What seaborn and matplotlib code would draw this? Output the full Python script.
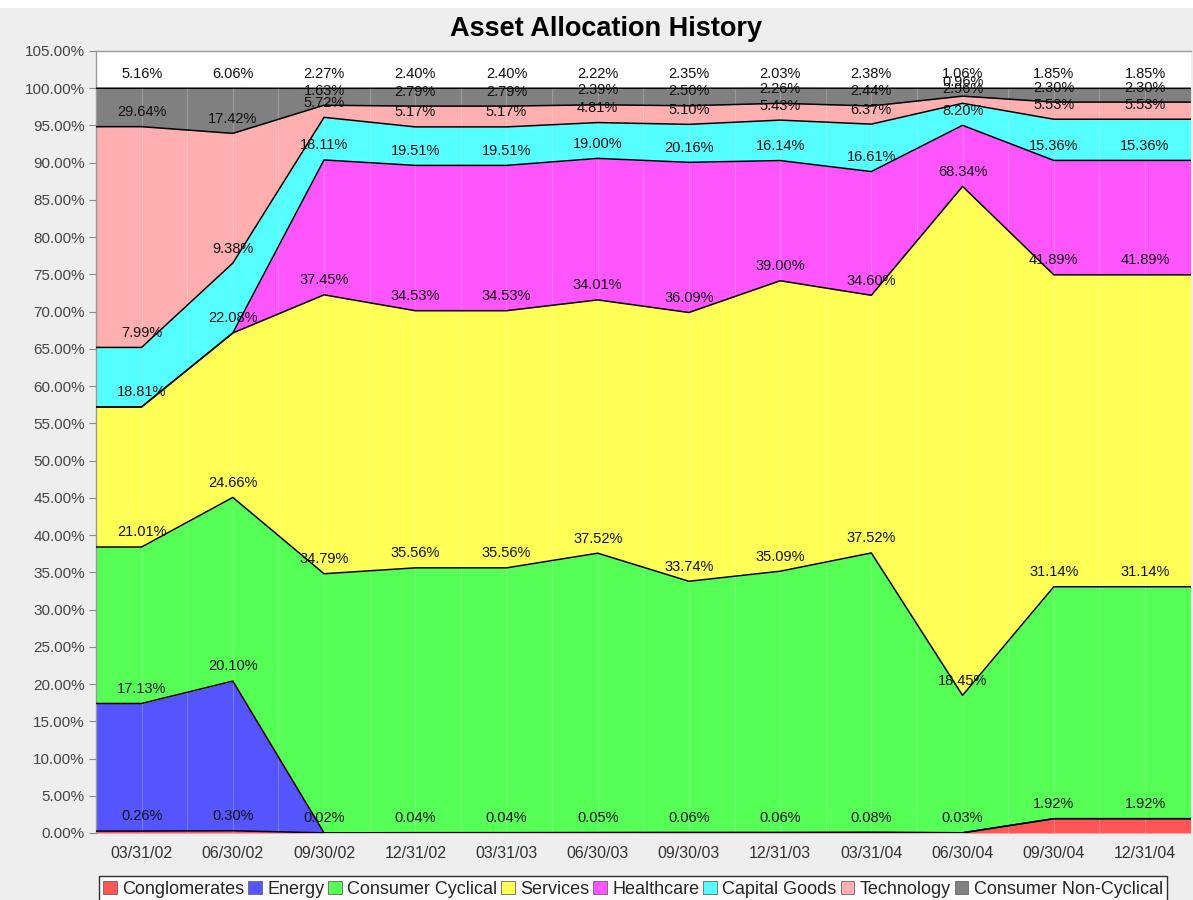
import numpy as np
import pandas as pd
import matplotlib
matplotlib.use("Agg")
import matplotlib.pyplot as plt
from matplotlib.patches import Patch, Rectangle
import seaborn as sns

# ---------------- data ----------------
dates = ["03/31/02", "06/30/02", "09/30/02", "12/31/02", "03/31/03", "06/30/03",
         "09/30/03", "12/31/03", "03/31/04", "06/30/04", "09/30/04", "12/31/04"]
series_names = ["Conglomerates", "Energy", "Consumer Cyclical", "Services",
                "Healthcare", "Capital Goods", "Technology", "Consumer Non-Cyclical"]
conglomerates = [0.26, 0.30, 0.02, 0.04, 0.04, 0.05, 0.06, 0.06, 0.08, 0.03, 1.92, 1.92]
energy = [17.13, 20.10, 0, 0, 0, 0, 0, 0, 0, 0, 0, 0]
consumer_cyclical = [21.01, 24.66, 34.79, 35.56, 35.56, 37.52, 33.74, 35.09, 37.52, 18.45, 31.14, 31.14]
services = [18.81, 22.08, 37.45, 34.53, 34.53, 34.01, 36.09, 39.00, 34.60, 68.34, 41.89, 41.89]
healthcare = [0, 0, 18.11, 19.51, 19.51, 19.00, 20.16, 16.14, 16.61, 8.20, 15.36, 15.36]
capital_goods = [7.99, 9.38, 5.72, 5.17, 5.17, 4.81, 5.10, 5.43, 6.37, 2.96, 5.53, 5.53]
technology = [29.64, 17.42, 1.63, 2.79, 2.79, 2.39, 2.50, 2.26, 2.44, 0.96, 2.30, 2.30]
non_cyclical = [5.16, 6.06, 2.27, 2.40, 2.40, 2.22, 2.35, 2.03, 2.38, 1.06, 1.85, 1.85]
colors = ["#FF5555", "#5555FF", "#55FF55", "#FFFF55", "#FF55FF", "#55FFFF", "#FFAFAF", "#808080"]
y_ticks = [0, 5, 10, 15, 20, 25, 30, 35, 40, 45, 50, 55, 60, 65, 70, 75, 80, 85, 90, 95, 100, 105]

values = [conglomerates, energy, consumer_cyclical, services, healthcare,
          capital_goods, technology, non_cyclical]
df = pd.DataFrame(dict(zip(series_names, values)), index=dates)

# ---------------- style ----------------
sns.set_style("white")
plt.rcParams["font.family"] = ["Liberation Sans", "DejaVu Sans"]

fig = plt.figure(figsize=(11.93, 9.0), dpi=100, facecolor="#EEEEEE")
fig.patches.append(Rectangle((0, 1 - 8 / 900), 1, 8 / 900, transform=fig.transFigure,
                             facecolor="white", edgecolor="none", zorder=0))
ax = fig.add_axes([96 / 1193, 1 - 833 / 900, 1 - 96 / 1193 - 0.002, (833 - 51) / 900])
ax.set_facecolor("white")

n = len(dates)
idx = np.arange(n)
xs = np.r_[-0.5, idx, n - 0.5]

cum = df.cumsum(axis=1)
prev = np.zeros(n)
for name, col in zip(series_names, colors):
    top = cum[name].to_numpy()
    lo = np.r_[prev[0], prev, prev[-1]]
    hi = np.r_[top[0], top, top[-1]]
    ax.fill_between(xs, lo, hi, color=col, linewidth=0, zorder=1)
    prev = top

# faint rendering seams
for s in np.arange(-0.5, n, 0.5)[1:]:
    ax.axvline(s, color="white", alpha=0.22, lw=0.8, zorder=2)

# outlines
for name in series_names:
    top = cum[name].to_numpy()
    sns.lineplot(x=xs, y=np.r_[top[0], top, top[-1]], color="black", linewidth=1.1,
                 ax=ax, zorder=3, legend=False)

# item labels
for name in series_names:
    top = cum[name].to_numpy()
    for i in range(n):
        v = df[name].iloc[i]
        if v > 0:
            ax.annotate(f"{v:.2f}%", (i, top[i]), xytext=(0, 10.5), textcoords="offset points",
                        ha="center", va="center", fontsize=10.5, color="#111111", zorder=4)

ax.set_xlim(-0.5, n - 0.5)
ax.set_ylim(0, 105)
ax.set_yticks(y_ticks)
ax.set_yticklabels([f"{t:.2f}%" for t in y_ticks])
ax.set_xticks(idx)
ax.set_xticklabels(dates)
ax.tick_params(axis="y", which="both", left=True, length=5, width=0.8, color="#888888",
               labelsize=11, labelcolor="#444444", pad=3)
ax.tick_params(axis="x", bottom=False, labelsize=11.5, labelcolor="#333333", pad=6)
for side in ["left", "top"]:
    ax.spines[side].set_color("#999999")
    ax.spines[side].set_linewidth(1.0)
ax.spines["right"].set_visible(False)
ax.spines["bottom"].set_visible(False)
ax.set_xlabel("")
ax.set_ylabel("")

fig.text(0.508, 1 - 29 / 900, "Asset Allocation History", ha="center", va="center",
         fontsize=19.5, fontweight="bold", color="black")

handles = [Patch(facecolor=c, edgecolor="#666666", linewidth=0.6) for c in colors]
leg = fig.legend(handles, series_names, loc="upper center",
                 bbox_to_anchor=(633 / 1193, 1 - 876 / 900), ncol=8, frameon=True,
                 fancybox=False, edgecolor="black", fontsize=13, handlelength=0.75,
                 handleheight=0.75, handletextpad=0.3, columnspacing=0.22, borderpad=0.25,
                 borderaxespad=0)
leg.get_frame().set_linewidth(1.0)
leg.get_frame().set_facecolor("white")

fig.savefig("out.png", dpi=100, facecolor=fig.get_facecolor())
